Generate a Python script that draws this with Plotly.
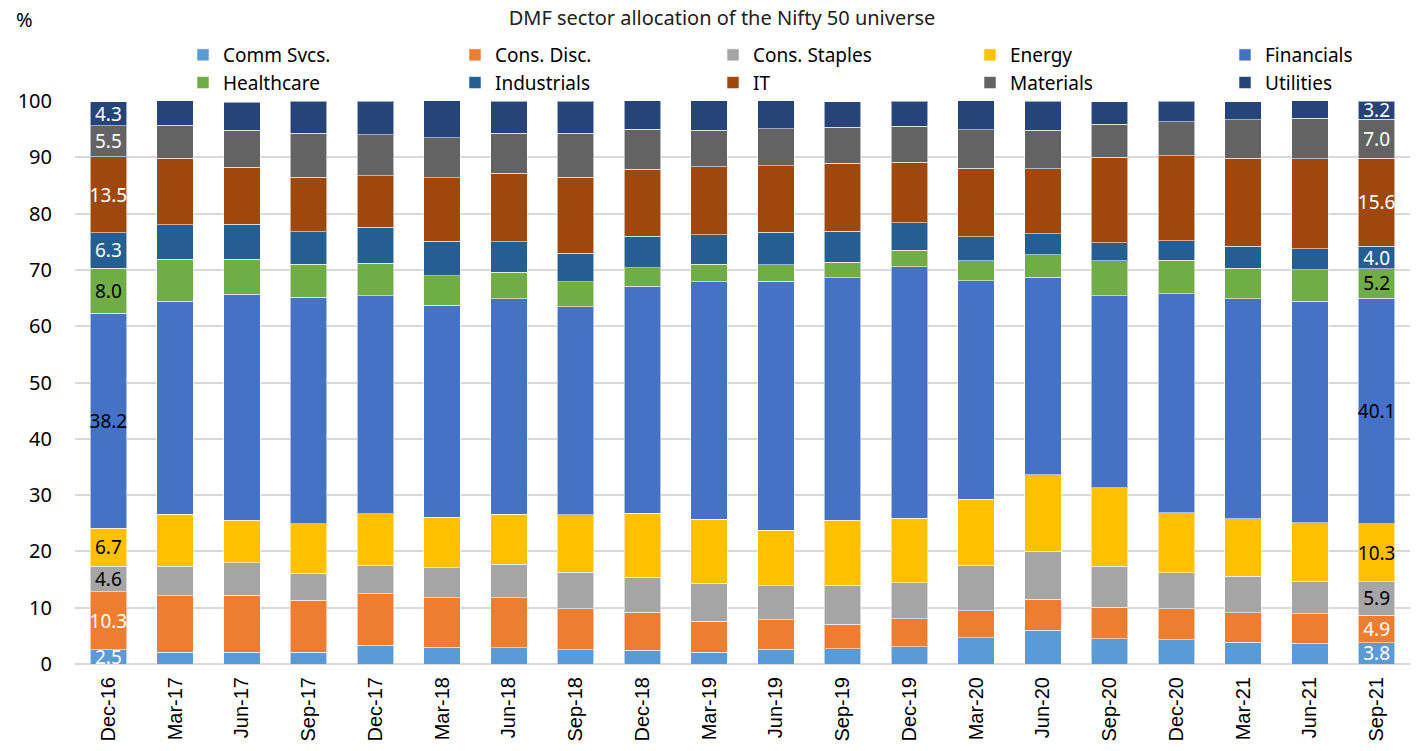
import plotly.graph_objects as go

periods = ["Dec-16", "Mar-17", "Jun-17", "Sep-17", "Dec-17", "Mar-18", "Jun-18",
           "Sep-18", "Dec-18", "Mar-19", "Jun-19", "Sep-19", "Dec-19", "Mar-20",
           "Jun-20", "Sep-20", "Dec-20", "Mar-21", "Jun-21", "Sep-21"]

comm_svcs = [2.5, 2.1, 2.1, 2.1, 3.3, 3.0, 2.9, 2.5, 2.4, 2.1, 2.6, 2.7, 3.1, 4.7,
             6.0, 4.5, 4.3, 3.9, 3.7, 3.8]
cons_disc = [10.3, 10.0, 10.1, 9.2, 9.2, 8.8, 8.9, 7.3, 6.8, 5.5, 5.3, 4.4, 4.9, 4.8,
             5.5, 5.6, 5.5, 5.2, 5.2, 4.9]
cons_staples = [4.6, 5.3, 5.8, 4.8, 5.0, 5.3, 5.9, 6.5, 6.2, 6.7, 6.0, 6.9, 6.4, 8.0,
                8.5, 7.3, 6.4, 6.5, 5.8, 5.9]
energy = [6.7, 9.2, 7.5, 8.8, 9.2, 9.0, 8.9, 10.2, 11.4, 11.4, 9.9, 11.5, 11.5, 11.8,
          13.6, 13.9, 10.7, 10.2, 10.4, 10.3]
financials = [38.2, 37.8, 40.2, 40.2, 38.7, 37.6, 38.3, 37.0, 40.3, 42.2, 44.2, 43.1,
              44.7, 38.8, 35.1, 34.1, 38.9, 39.1, 39.3, 40.1]
healthcare = [8.0, 7.5, 6.2, 5.9, 5.8, 5.3, 4.7, 4.4, 3.3, 3.1, 2.9, 2.8, 2.9, 3.5,
              4.0, 6.2, 5.9, 5.4, 5.6, 5.2]
industrials = [6.3, 6.1, 6.2, 5.8, 6.4, 6.1, 5.4, 5.1, 5.6, 5.2, 5.8, 5.5, 4.9, 4.3,
               3.7, 3.2, 3.5, 3.9, 3.8, 4.0]
it = [13.5, 11.8, 10.1, 9.7, 9.1, 11.3, 12.2, 13.5, 11.9, 12.1, 11.8, 12.0, 10.7, 12.2,
      11.6, 15.2, 15.1, 15.6, 15.9, 15.6]
materials = [5.5, 5.9, 6.6, 7.8, 7.3, 7.1, 7.1, 7.8, 7.1, 6.5, 6.6, 6.4, 6.4, 6.8,
             6.8, 5.9, 6.0, 6.9, 7.2, 7.0]
utilities = [4.3, 4.4, 5.0, 5.7, 6.0, 6.6, 5.7, 5.7, 5.2, 5.3, 5.0, 4.6, 4.5, 5.2,
             5.2, 4.0, 3.7, 3.2, 3.2, 3.2]

sectors = [
    ("Comm Svcs.", comm_svcs, "#5B9BD5", "white"),
    ("Cons. Disc.", cons_disc, "#ED7D31", "white"),
    ("Cons. Staples", cons_staples, "#A5A5A5", "black"),
    ("Energy", energy, "#FFC000", "black"),
    ("Financials", financials, "#4472C4", "black"),
    ("Healthcare", healthcare, "#70AD47", "black"),
    ("Industrials", industrials, "#255E91", "white"),
    ("IT", it, "#9E480E", "white"),
    ("Materials", materials, "#636363", "white"),
    ("Utilities", utilities, "#264478", "white"),
]

# legend laid out as 5 columns x 2 rows: one small legend per column
legend_cols_px = [183, 455, 713, 970, 1225]
legend_ids = ["legend", "legend2", "legend3", "legend4", "legend5"]

fig = go.Figure()
last = len(periods) - 1
for k, (name, vals, color, label_color) in enumerate(sectors):
    # value labels only on the first and the latest period
    labels = [f"{v:.1f}" if i in (0, last) else "" for i, v in enumerate(vals)]
    fig.add_trace(go.Bar(
        name=name, x=periods, y=vals,
        legend=legend_ids[k % 5],
        marker=dict(color=color, line=dict(color="rgba(255,255,255,0.55)", width=1)),
        text=labels, textposition="inside", insidetextanchor="middle",
        textangle=0, constraintext="none",
        textfont=dict(color=label_color, size=19, family="Noto Sans"),
        hoverinfo="x+y+name",
    ))

legend_style = dict(orientation="v", xref="container", yref="container",
                    xanchor="left", yanchor="top", y=1 - 36 / 751,
                    traceorder="normal", font=dict(size=19, color="black"),
                    itemwidth=30, tracegroupgap=0, bgcolor="rgba(0,0,0,0)")
legends = {lid: dict(legend_style, x=px / 1419) for lid, px in zip(legend_ids, legend_cols_px)}

fig.update_layout(
    barmode="stack",
    bargap=0.45,
    width=1419, height=751,
    margin=dict(l=75, r=9, t=101, b=87, autoexpand=False),
    paper_bgcolor="white", plot_bgcolor="white",
    font=dict(family="Noto Sans", size=19, color="black"),
    title=dict(text="DMF sector allocation of the Nifty 50 universe",
               x=722 / 1419, xanchor="center", xref="container",
               y=1 - 18 / 751, yanchor="middle", yref="container",
               font=dict(size=20, color="#202020")),
    xaxis=dict(tickangle=-90, showline=False, ticks="", ticklabelstandoff=8,
               tickfont=dict(family="Liberation Sans", size=20, color="black")),
    yaxis=dict(range=[0, 100], dtick=10, showgrid=True, gridcolor="#D9D9D9",
               gridwidth=1.5, zeroline=True, zerolinecolor="#D9D9D9", zerolinewidth=1.5,
               ticks="", ticklabelstandoff=22,
               tickfont=dict(size=20, color="black")),
    annotations=[dict(text="%", xref="paper", yref="paper", x=-0.0375, y=1.144,
                      xanchor="center", yanchor="middle",
                      showarrow=False, font=dict(size=20, color="black"))],
    **legends,
)

fig.write_html("out.html")
